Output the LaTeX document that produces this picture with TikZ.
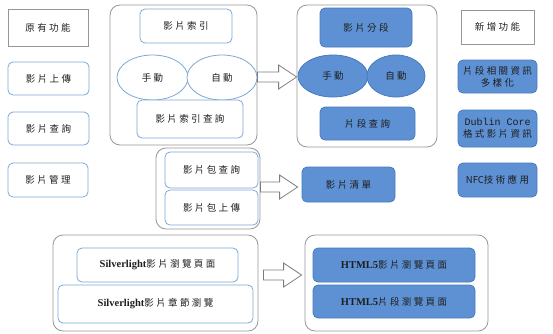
\documentclass[tikz,border=0pt]{standalone}
\usepackage{fontspec}
\usetikzlibrary{shapes.geometric,calc}
\newfontfamily\cjk[LetterSpace=25]{Noto Sans CJK TC}
\newfontfamily\cjknosp{Noto Sans CJK TC}
\newfontfamily\lat{Liberation Serif}
\newfontfamily\mono{Liberation Mono}
\definecolor{bfill}{RGB}{94,145,212}
\definecolor{bline}{RGB}{72,122,190}
\definecolor{lline}{RGB}{125,168,212}
\definecolor{gline}{RGB}{150,150,150}
\definecolor{aline}{RGB}{125,125,125}
\definecolor{txt}{RGB}{30,30,30}
\tikzset{
  base/.style={inner sep=0pt, align=center, text=txt, font=\fontsize{9.5}{12}\selectfont\cjk, line width=0.8pt},
  sharpbox/.style={base, draw=gline, rectangle},
  wbox/.style={base, draw=lline, fill=white, rectangle, rounded corners=5pt},
  bbox/.style={base, draw=bline, fill=bfill, rectangle, rounded corners=5pt},
  outer/.style={base, draw=gline, rectangle, rounded corners=10pt},
  well/.style={base, draw=lline, fill=white, ellipse},
  bell/.style={base, draw=bline, fill=bfill, ellipse},
  blk/.style={draw=aline, fill=white, line width=0.8pt, line join=miter}
}
\newcommand{\blockarrow}[2]{%
  \draw[blk] let \p1=(#1), \p2=(#2) in
    (\x1,{\y1+5pt}) -- ({\x2-18pt},{\y1+5pt}) -- ({\x2-18pt},{\y1+12pt}) --
    (\x2,\y1) -- ({\x2-18pt},{\y1-12pt}) -- ({\x2-18pt},{\y1-5pt}) --
    (\x1,{\y1-5pt}) -- cycle;}
\begin{document}
\begin{tikzpicture}[x=1pt,y=-1pt]
\useasboundingbox (0,0) rectangle (553,333);
% left column
\node[sharpbox, minimum width=80pt, minimum height=37pt] (old) at (48,27.5) {原有功能};
\node[wbox, minimum width=81pt, minimum height=33pt] (up) at (48.5,78.5) {影片上傳};
\node[wbox, minimum width=81pt, minimum height=33pt] (qry) at (48.5,128.5) {影片查詢};
\node[wbox, minimum width=80pt, minimum height=34pt] (mgr) at (48,180) {影片管理};
% box 1
\node[outer, minimum width=147pt, minimum height=140pt] (box1) at (183.5,75) {};
\node[wbox, minimum width=92pt, minimum height=34pt] (idx) at (186,26) {影片索引};
\node[well, minimum width=71pt, minimum height=45pt] (man1) at (152.5,77.5) {手動};
\node[well, minimum width=70pt, minimum height=45pt] (auto1) at (222,77.5) {自動};
\node[wbox, minimum width=106pt, minimum height=38pt] (idxq) at (190,119) {影片索引查詢};
% box 2
\node[outer, minimum width=140pt, minimum height=142pt] (box2) at (367,76) {};
\node[bbox, minimum width=92pt, minimum height=39pt] (seg) at (366,27.5) {影片分段};
\node[bell, minimum width=70pt, minimum height=42pt] (man2) at (333,76) {手動};
\node[bell, minimum width=58pt, minimum height=42pt] (auto2) at (396,76) {自動};
\node[bbox, minimum width=95pt, minimum height=33pt] (segq) at (367.5,123.5) {片段查詢};
% right column
\node[sharpbox, minimum width=73pt, minimum height=34pt] (new) at (497.5,27) {新增功能};
\node[bbox, minimum width=79pt, minimum height=33pt] (multi) at (497.5,76.5) {片段相關資訊\\多樣化};
\node[bbox, minimum width=79pt, minimum height=37pt] (dub) at (497.5,128.5) {{\mono\fontsize{10}{12}\selectfont Dublin Core}\\格式影片資訊};
\node[bbox, minimum width=79pt, minimum height=34pt] (nfc) at (497.5,180) {{\cjknosp NFC}技術應用};
% middle
\node[outer, minimum width=104pt, minimum height=81pt] (pkg) at (208,188.5) {};
\node[wbox, minimum width=93pt, minimum height=36pt] (pkgq) at (211.5,170) {影片包查詢};
\node[wbox, minimum width=93pt, minimum height=35pt] (pkgu) at (211.5,207.5) {影片包上傳};
\node[bbox, minimum width=93pt, minimum height=35pt] (list) at (348.5,184.5) {影片清單};
% bottom
\node[outer, minimum width=205pt, minimum height=96pt] (sl) at (155.5,283) {};
\node[wbox, minimum width=161pt, minimum height=34pt] (sl1) at (157.5,265) {{\lat\bfseries\fontsize{10.5}{12}\selectfont Silverlight}影片瀏覽頁面};
\node[wbox, minimum width=195pt, minimum height=38pt] (sl2) at (155.5,304) {{\lat\bfseries\fontsize{10.5}{12}\selectfont Silverlight}影片章節瀏覽};
\node[outer, minimum width=183pt, minimum height=96pt] (hb) at (396.5,283) {};
\node[bbox, minimum width=162pt, minimum height=34pt] (h1) at (394,265) {{\lat\bfseries\fontsize{10.5}{12}\selectfont HTML5}影片瀏覽頁面};
\node[bbox, minimum width=162pt, minimum height=33pt] (h2) at (394,301.5) {{\lat\bfseries\fontsize{10.5}{12}\selectfont HTML5}片段瀏覽頁面};
% block arrows
\coordinate (a1s) at ($(box1.east)+(0,2)$);
\coordinate (a1t) at (box2.west);
\blockarrow{a1s}{a1t}
\coordinate (a2s) at ($(pkg.east)+(0,-1.5)$);
\coordinate (a2t) at ($(list.west)+(-4,0)$);
\blockarrow{a2s}{a2t}
\coordinate (a3s) at ($(sl.east)+(5,-8)$);
\coordinate (a3t) at ($(hb.west)+(-3,0)$);
\blockarrow{a3s}{a3t}
\end{tikzpicture}
\end{document}
